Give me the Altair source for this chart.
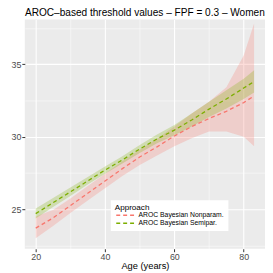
import altair as alt
import pandas as pd

ages = [20, 25, 30, 35, 40, 45, 50, 55, 60, 65, 70, 75, 80, 83]

np_mean = [23.7, 24.4, 25.25, 26.1, 26.95, 27.8, 28.6, 29.3, 30.05, 30.7, 31.25, 31.75, 32.35, 32.8]
np_lo = [23.0, 23.85, 24.75, 25.6, 26.45, 27.3, 28.05, 28.7, 29.35, 29.9, 30.35, 30.35, 30.0, 29.35]
np_hi = [24.5, 24.95, 25.75, 26.6, 27.45, 28.3, 29.1, 29.85, 30.7, 31.6, 32.4, 33.4, 35.6, 37.8]

sp_mean = [24.7, 25.45, 26.2, 26.95, 27.7, 28.4, 29.15, 29.85, 30.45, 31.15, 31.9, 32.6, 33.35, 33.8]
sp_lo = [24.37, 25.15, 25.92, 26.7, 27.45, 28.15, 28.88, 29.55, 30.1, 30.7, 31.35, 31.95, 32.6, 33.05]
sp_hi = [25.05, 25.77, 26.5, 27.22, 27.95, 28.65, 29.42, 30.15, 30.8, 31.6, 32.4, 33.2, 34.0, 34.57]

approaches = ["AROC Bayesian Nonparam.", "AROC Bayesian Semipar."]
colors = ["#F8766D", "#7CAE00"]

rows = []
for name, m, lo, hi in [(approaches[0], np_mean, np_lo, np_hi), (approaches[1], sp_mean, sp_lo, sp_hi)]:
    for a, mm, l, h in zip(ages, m, lo, hi):
        rows.append({"age": a, "Approach": name, "mean": mm, "lo": l, "hi": h})
df = pd.DataFrame(rows)

xscale = alt.Scale(domain=[16.85, 86.15], nice=False, zero=False)
yscale = alt.Scale(domain=[22.28, 38.08], nice=False, zero=False)
cscale = alt.Scale(domain=approaches, range=colors)

leg = alt.Legend(
    orient="none", legendX=87, legendY=183, title="Approach",
    titleFontSize=8.2, labelFontSize=6.9, titleFont="Liberation Sans", labelFont="Liberation Sans",
    titleFontWeight="normal", titleColor="black", labelColor="black",
    symbolType="M-3,0L3,0", symbolSize=40, symbolStrokeWidth=1.6, symbolDash=[4, 3],
    symbolOffset=7, fillColor="white", padding=4, rowPadding=-1, titlePadding=-1,
    labelOffset=9, symbolOpacity=1, labelLimit=200,
)

xaxis = alt.Axis(
    values=[20, 30, 40, 50, 60, 70, 80], title="Age (years)",
    labelExpr="datum.value % 20 === 0 ? datum.label : ''",
    gridWidth={"condition": {"test": "datum.value % 20 === 0", "value": 1.1}, "value": 0.5},
    tickOpacity={"condition": {"test": "datum.value % 20 === 0", "value": 1}, "value": 0},
)
yaxis = alt.Axis(
    values=[22.5, 25, 27.5, 30, 32.5, 35, 37.5], title=None, labelOverlap=False,
    labelExpr="datum.value % 5 === 0 ? datum.label : ''",
    gridWidth={"condition": {"test": "datum.value % 5 === 0", "value": 1.1}, "value": 0.5},
    tickOpacity={"condition": {"test": "datum.value % 5 === 0", "value": 1}, "value": 0},
)

base = alt.Chart(df)
band = base.mark_area(opacity=0.25).encode(
    x=alt.X("age:Q", scale=xscale, axis=xaxis),
    y=alt.Y("lo:Q", scale=yscale, axis=yaxis),
    y2="hi:Q",
    color=alt.Color("Approach:N", scale=cscale, legend=leg),
)
line = base.mark_line(strokeWidth=1.3, strokeDash=[4, 3]).encode(
    x=alt.X("age:Q", scale=xscale, axis=xaxis),
    y=alt.Y("mean:Q", scale=yscale, axis=yaxis),
    color=alt.Color("Approach:N", scale=cscale, legend=leg),
)

chart = alt.layer(band, line).properties(
    width=243, height=232,
    title=alt.TitleParams("AROC\u2013based threshold values \u2013 FPF = 0.3 \u2013 Women",
                          fontSize=10.2, font="Liberation Sans", fontWeight="normal",
                          anchor="middle", offset=1, color="black"),
    autosize=alt.AutoSizeParams(type="none"),
    padding={"left": 17, "top": 10, "right": 0, "bottom": 24},
).configure_view(fill="#EBEBEB", stroke=None).configure_axis(
    domain=False, gridColor="white", tickColor="#333333", tickSize=3,
    labelColor="#4D4D4D", labelFontSize=9, labelFont="Liberation Sans",
    titleFont="Liberation Sans", titleFontSize=9.4, titleFontWeight="normal", titleColor="black",
    labelPadding=1, titlePadding=0,
)

chart.save("out.html", embed_options={"renderer": "svg", "actions": False})
